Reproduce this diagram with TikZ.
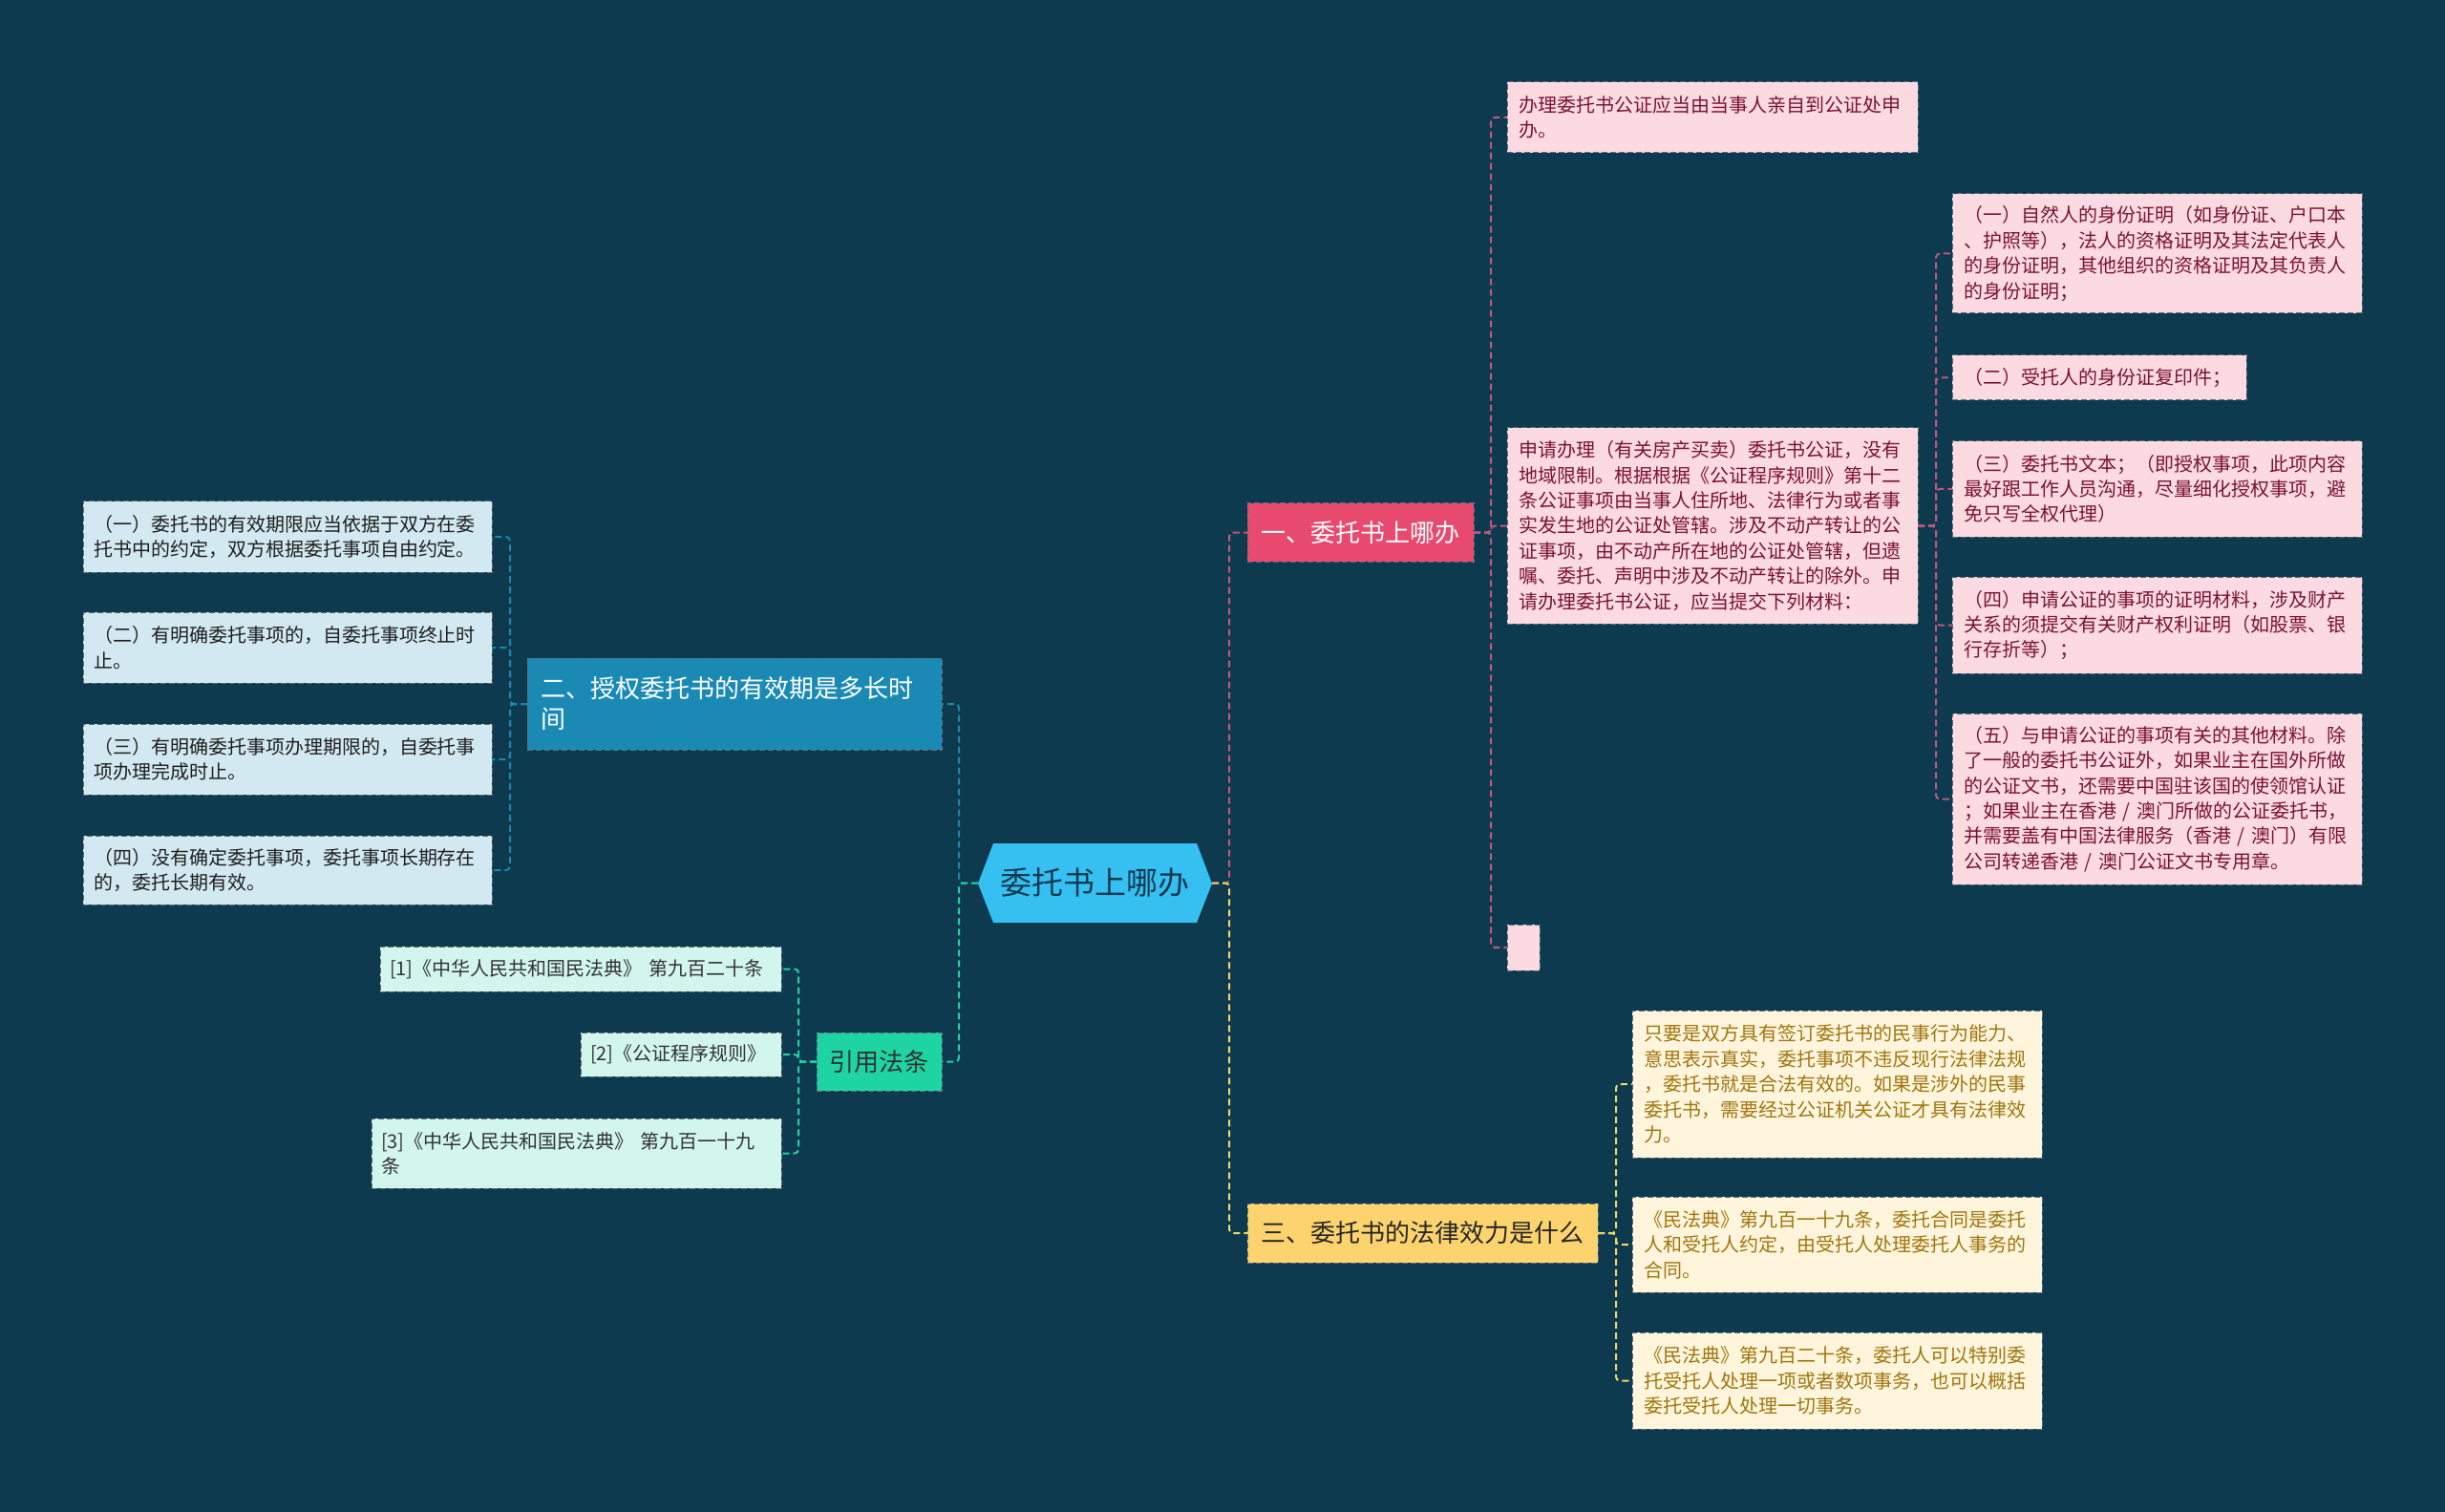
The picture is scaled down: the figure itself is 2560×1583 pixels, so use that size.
\documentclass[tikz,border=0pt]{standalone}
\usepackage{fontspec}
\setmainfont{Noto Sans CJK SC}
\definecolor{bg}{HTML}{0D3A4E}
\definecolor{pinkT}{HTML}{E84A6F}
\definecolor{pinkL}{HTML}{FCDAE2}
\definecolor{pinkTx}{HTML}{7A1235}
\definecolor{pinkLn}{HTML}{C2577E}
\definecolor{yelT}{HTML}{FCD36E}
\definecolor{yelL}{HTML}{FEF5DC}
\definecolor{yelTx}{HTML}{A0760F}
\definecolor{yelLn}{HTML}{F3D46A}
\definecolor{bluT}{HTML}{1A8AB5}
\definecolor{bluL}{HTML}{D3E9F1}
\definecolor{bluLn}{HTML}{1B86B0}
\definecolor{grnT}{HTML}{1DD4A2}
\definecolor{grnL}{HTML}{D2F6EE}
\definecolor{grnLn}{HTML}{1DD4A2}
\definecolor{rootC}{HTML}{36C0F2}
\definecolor{rootTx}{HTML}{123A50}
\definecolor{brd}{HTML}{5E6E78}
\newcommand\mmbox[8]{%
  \pgfmathsetmacro\mmw{(#5-#3)*0.5}%
  \pgfmathsetmacro\mmh{(#6-#4)*0.5}%
  \pgfmathsetmacro\mmt{(#5-#3-2*#7)*0.5}%
  \pgfmathsetmacro\mmp{#7*0.5}%
  \node[#2, anchor=north west, inner xsep=\mmp pt, inner ysep=0pt, text width=\mmt pt, minimum height=\mmh pt] (#1) at (#3,#4) {#8};}
\tikzset{
  box/.style={draw=brd, line width=0.5pt, dash pattern=on 3pt off 1.5pt, outer sep=0pt, align=left, font=\fontsize{10}{13.2}\selectfont},
  pinkbox/.style={box, fill=pinkL, text=pinkTx},
  yelbox/.style={box, fill=yelL, text=yelTx},
  blubox/.style={box, fill=bluL, text=black!88},
  grnbox/.style={box, fill=grnL, text=black!80},
  title/.style={draw=brd, line width=0.5pt, dash pattern=on 3pt off 1.5pt, outer sep=0pt, font=\fontsize{13}{16}\selectfont},
  conn/.style={line width=1pt, dash pattern=on 3.5pt off 2pt, rounded corners=2pt},
}
\begin{document}
\begin{tikzpicture}[x=0.5pt, y=-0.5pt]
\fill[bg] (0,0) rectangle (2560,1583);
\useasboundingbox (0,0) rectangle (2560,1583);

% root
\fill[rootC] (1024,925) -- (1040,883) -- (1253,883) -- (1269,925) -- (1253,966) -- (1040,966) -- cycle;
\node[outer sep=0pt, inner sep=0pt, minimum width=122.5pt, minimum height=41.5pt, text=rootTx, font=\fontsize{16.5}{20}\selectfont] (root) at (1146.5,924.5) {委托书上哪办};

% right side: branch one
\mmbox{one}{title, fill=pinkT, text=white, align=center}{1306}{527}{1543}{588}{10}{一、委托书上哪办}
\mmbox{p1}{pinkbox}{1578}{86}{2008}{160}{12}{办理委托书公证应当由当事人亲自到公证处申\\办。}
\mmbox{p2}{pinkbox}{1578}{448}{2008}{653}{12}{申请办理（有关房产买卖）委托书公证，没有\\地域限制。根据根据《公证程序规则》第十二\\条公证事项由当事人住所地、法律行为或者事\\实发生地的公证处管辖。涉及不动产转让的公\\证事项，由不动产所在地的公证处管辖，但遗\\嘱、委托、声明中涉及不动产转让的除外。申\\请办理委托书公证，应当提交下列材料：}
\mmbox{p3}{pinkbox}{1578}{968}{1612}{1016}{4}{}
\mmbox{c1}{pinkbox}{2044}{203}{2473}{328}{12}{（一）自然人的身份证明（如身份证、户口本\\、护照等），法人的资格证明及其法定代表人\\的身份证明，其他组织的资格证明及其负责人\\的身份证明；}
\mmbox{c2}{pinkbox}{2044}{372}{2352}{419}{12}{（二）受托人的身份证复印件；}
\mmbox{c3}{pinkbox}{2044}{462}{2473}{562}{12}{（三）委托书文本；（即授权事项，此项内容\\最好跟工作人员沟通，尽量细化授权事项，避\\免只写全权代理）}
\mmbox{c4}{pinkbox}{2044}{604}{2473}{705}{12}{（四）申请公证的事项的证明材料，涉及财产\\关系的须提交有关财产权利证明（如股票、银\\行存折等）；}
\mmbox{c5}{pinkbox}{2044}{747}{2473}{926}{12}{（五）与申请公证的事项有关的其他材料。除\\了一般的委托书公证外，如果业主在国外所做\\的公证文书，还需要中国驻该国的使领馆认证\\；如果业主在香港 / 澳门所做的公证委托书，\\并需要盖有中国法律服务（香港 / 澳门）有限\\公司转递香港 / 澳门公证文书专用章。}

% branch three
\mmbox{three}{title, fill=yelT, text=black!85, align=center}{1306}{1260}{1673}{1322}{10}{三、委托书的法律效力是什么}
\mmbox{y1}{yelbox}{1709}{1058}{2138}{1212}{12}{只要是双方具有签订委托书的民事行为能力、\\意思表示真实，委托事项不违反现行法律法规\\，委托书就是合法有效的。如果是涉外的民事\\委托书，需要经过公证机关公证才具有法律效\\力。}
\mmbox{y2}{yelbox}{1709}{1253}{2138}{1353}{12}{《民法典》第九百一十九条，委托合同是委托\\人和受托人约定，由受托人处理委托人事务的\\合同。}
\mmbox{y3}{yelbox}{1709}{1395}{2138}{1496}{12}{《民法典》第九百二十条，委托人可以特别委\\托受托人处理一项或者数项事务，也可以概括\\委托受托人处理一切事务。}

% left side: branch two
\mmbox{two}{title, fill=bluT, text=white, align=left}{552}{689}{986}{785}{14}{二、授权委托书的有效期是多长时\\间}
\mmbox{b1}{blubox}{87}{525}{515}{599}{11}{（一）委托书的有效期限应当依据于双方在委\\托书中的约定，双方根据委托事项自由约定。}
\mmbox{b2}{blubox}{87}{641}{515}{715}{11}{（二）有明确委托事项的，自委托事项终止时\\止。}
\mmbox{b3}{blubox}{87}{758}{515}{832}{11}{（三）有明确委托事项办理期限的，自委托事\\项办理完成时止。}
\mmbox{b4}{blubox}{87}{875}{515}{947}{11}{（四）没有确定委托事项，委托事项长期存在\\的，委托长期有效。}

% citations
\mmbox{cite}{title, fill=grnT, text=black!80, align=center}{855}{1081}{986}{1142}{8}{引用法条}
\mmbox{r1}{grnbox}{398}{991}{818}{1038}{10}{[1]《中华人民共和国民法典》 第九百二十条}
\mmbox{r2}{grnbox}{608}{1081}{818}{1127}{10}{[2]《公证程序规则》}
\mmbox{r3}{grnbox}{389}{1171}{818}{1244}{10}{[3]《中华人民共和国民法典》 第九百一十九\\条}

% connectors
\foreach \t in {p1,p2,p3} \draw[conn, pinkLn] (one.east) -- ++(18,0) |- (\t.west);
\foreach \t in {c1,c2,c3,c4,c5} \draw[conn, pinkLn] (p2.east) -- ++(19,0) |- (\t.west);
\foreach \t in {y1,y2,y3} \draw[conn, yelLn] (three.east) -- ++(19,0) |- (\t.west);
\foreach \t in {b1,b2,b3,b4} \draw[conn, bluLn] (two.west) -- ++(-18,0) |- (\t.east);
\foreach \t in {r1,r2,r3} \draw[conn, grnLn] (cite.west) -- ++(-19,0) |- (\t.east);
\draw[conn, pinkLn] (root.east) -- ++(18,0) |- (one.west);
\draw[conn, yelLn] (root.east) -- ++(18,0) |- (three.west);
\draw[conn, bluLn] (root.west) -- ++(-20,0) |- (two.east);
\draw[conn, grnLn] (root.west) -- ++(-20,0) |- (cite.east);
\end{tikzpicture}
\end{document}
